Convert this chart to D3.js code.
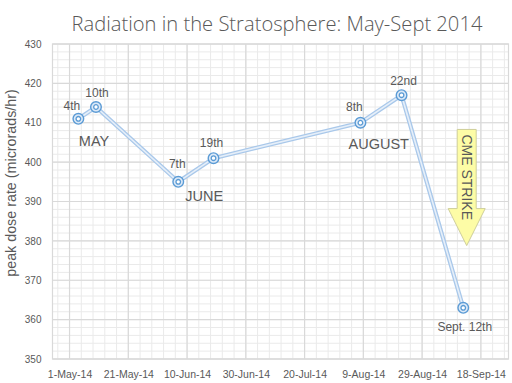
<!DOCTYPE html>
<html>
<head>
<meta charset="utf-8">
<script src="https://cdn.jsdelivr.net/npm/d3@7"></script>
<style>
  html, body { margin: 0; padding: 0; background: #fff; }
  svg { display: block; }
</style>
</head>
<body>
<div id="chart"></div>
<script>
// ---- data ----
const dates = ["2014-05-04", "2014-05-10", "2014-06-07", "2014-06-19", "2014-08-08", "2014-08-22", "2014-09-12"];
const doseRates = [411, 414, 395, 401, 410, 417, 363];
const dayLabels = ["4th", "10th", "7th", "19th", "8th", "22nd", "Sept. 12th"];
const monthLabels = ["MAY", "JUNE", "AUGUST"];
const xTickDates = ["2014-05-01", "2014-05-21", "2014-06-10", "2014-06-30", "2014-07-20", "2014-08-09", "2014-08-29", "2014-09-18"];
const xTickLabels = ["1-May-14", "21-May-14", "10-Jun-14", "30-Jun-14", "20-Jul-14", "9-Aug-14", "29-Aug-14", "18-Sep-14"];
const yTicks = [350, 360, 370, 380, 390, 400, 410, 420, 430];
const titleText = "Radiation in the Stratosphere: May-Sept 2014";
const yTitle = "peak dose rate (microrads/hr)";
const cmeText = "CME STRIKE";

const W = 512, H = 383;
const plot = { left: 52.5, right: 508.5, top: 44, bottom: 359 };
const DAY = 864e5;
const parse = s => new Date(s + "T00:00:00Z");
const base = parse("2014-05-01");

const x = d3.scaleUtc()
  .domain([new Date(base.getTime() - 5.8 * DAY), new Date(base.getTime() + 149.4 * DAY)])
  .range([plot.left, plot.right]);
const y = d3.scaleLinear().domain([350, 430]).range([plot.bottom, plot.top]);

const svg = d3.select("#chart").append("svg").attr("width", W).attr("height", H);
svg.append("rect").attr("width", W).attr("height", H).attr("fill", "#fff");

const font = "'Liberation Sans', Arial, sans-serif";
const grey = "#595959";

// minor gridlines
const minorX = d3.range(-4, 150, 4).map(d => new Date(base.getTime() + d * DAY));
const minorY = d3.range(350, 431, 2);
const g = svg.append("g");
g.selectAll("line.mx").data(minorX).join("line")
  .attr("x1", d => x(d)).attr("x2", d => x(d))
  .attr("y1", plot.top).attr("y2", plot.bottom)
  .attr("stroke", "#eaeaea").attr("stroke-width", 1);
g.selectAll("line.my").data(minorY).join("line")
  .attr("y1", d => y(d)).attr("y2", d => y(d))
  .attr("x1", plot.left).attr("x2", plot.right)
  .attr("stroke", "#eaeaea").attr("stroke-width", 1);

// major gridlines
g.selectAll("line.Mx").data(xTickDates.map(parse)).join("line")
  .attr("x1", d => x(d)).attr("x2", d => x(d))
  .attr("y1", plot.top).attr("y2", plot.bottom)
  .attr("stroke", "#d9d9d9").attr("stroke-width", 1.2);
g.selectAll("line.My").data(yTicks).join("line")
  .attr("y1", d => y(d)).attr("y2", d => y(d))
  .attr("x1", plot.left).attr("x2", plot.right)
  .attr("stroke", "#d9d9d9").attr("stroke-width", 1.2);

// plot border
svg.append("rect")
  .attr("x", plot.left).attr("y", plot.top)
  .attr("width", plot.right - plot.left).attr("height", plot.bottom - plot.top)
  .attr("fill", "none").attr("stroke", "#d9d9d9").attr("stroke-width", 1.2);

// axes (labels only, using d3 axes)
const tickMap = new Map(xTickDates.map((d, i) => [parse(d).getTime(), xTickLabels[i]]));
const xAxis = d3.axisBottom(x)
  .tickValues(xTickDates.map(parse))
  .tickFormat(d => tickMap.get(d.getTime()))
  .tickSize(0).tickPadding(12);
const xa = svg.append("g").attr("transform", `translate(0,${plot.bottom})`).call(xAxis);
xa.select(".domain").remove();
xa.selectAll("text").attr("font-family", font).attr("font-size", 10.5).attr("fill", grey);

const yAxis = d3.axisLeft(y).tickValues(yTicks).tickSize(0).tickPadding(11);
const ya = svg.append("g").attr("transform", `translate(${plot.left},0)`).call(yAxis);
ya.select(".domain").remove();
ya.selectAll("text").attr("font-family", font).attr("font-size", 10).attr("fill", grey);

// title
const title = svg.append("text")
  .attr("x", 277).attr("y", 30.5).attr("text-anchor", "middle")
  .attr("font-family", "'Open Sans', 'Liberation Sans', sans-serif")
  .attr("font-weight", 300)
  .attr("font-size", 20).attr("fill", grey)
  .text(titleText);
const tw = title.node().getComputedTextLength();
if (tw > 0) title.attr("font-size", 20 * 411 / tw);

// y title
svg.append("text")
  .attr("transform", `translate(15.5,${183}) rotate(-90)`)
  .attr("text-anchor", "middle")
  .attr("font-family", font).attr("font-size", 14.3).attr("fill", grey)
  .text(yTitle);

// series
const pts = dates.map((d, i) => ({ date: parse(d), v: doseRates[i], label: dayLabels[i] }));
const line = d3.line().x(d => x(d.date)).y(d => y(d.v));
svg.append("path").datum(pts).attr("d", line)
  .attr("fill", "none").attr("stroke", "#a9c8ea").attr("stroke-width", 4.2)
  .attr("stroke-linejoin", "round");
svg.append("path").datum(pts).attr("d", line)
  .attr("fill", "none").attr("stroke", "#e6eff9").attr("stroke-width", 1.6)
  .attr("stroke-linejoin", "round");

const mk = svg.append("g").selectAll("g").data(pts).join("g")
  .attr("transform", d => `translate(${x(d.date)},${y(d.v)})`);
mk.append("circle").attr("r", 5.3).attr("fill", "#dce9f7").attr("stroke", "#5b9bd5").attr("stroke-width", 1.4);
mk.append("circle").attr("r", 2.3).attr("fill", "#fff").attr("stroke", "#5b9bd5").attr("stroke-width", 1.3);

// day labels
const labelOffsets = [[-6.5, -9], [1, -10], [-1, -14], [-2, -11], [-6, -12], [2, -10], [1.5, 23]];
svg.append("g").selectAll("text").data(pts).join("text")
  .attr("x", (d, i) => x(d.date) + labelOffsets[i][0])
  .attr("y", (d, i) => y(d.v) + labelOffsets[i][1])
  .attr("text-anchor", "middle")
  .attr("font-family", font).attr("font-size", 12).attr("fill", grey)
  .text(d => d.label);

// month labels anchored to points
const monthAnchors = [[1, -2, 39], [2, 26, 19], [4, 18.3, 26]];
svg.append("g").selectAll("text").data(monthLabels).join("text")
  .attr("x", (d, i) => x(pts[monthAnchors[i][0]].date) + monthAnchors[i][1])
  .attr("y", (d, i) => y(pts[monthAnchors[i][0]].v) + monthAnchors[i][2])
  .attr("text-anchor", "middle")
  .attr("font-family", font).attr("font-size", 14.5).attr("fill", grey)
  .text(d => d);

// CME STRIKE arrow
const ax = x(parse("2014-09-13")) + 0.5;
const aTop = y(408.3), aShaft = y(388.2), aTip = y(378.8);
const sw = 9.5, hw = 18.5;
const arrow = d3.path();
arrow.moveTo(ax - sw, aTop);
arrow.lineTo(ax + sw, aTop);
arrow.lineTo(ax + sw, aShaft);
arrow.lineTo(ax + hw, aShaft);
arrow.lineTo(ax, aTip);
arrow.lineTo(ax - hw, aShaft);
arrow.lineTo(ax - sw, aShaft);
arrow.closePath();
svg.append("path").attr("d", arrow.toString())
  .attr("fill", "#fdfca6").attr("stroke", "#cfcf9a").attr("stroke-width", 1);
svg.append("text")
  .attr("transform", `translate(${ax - 5},${aTop + 5}) rotate(90)`)
  .attr("font-family", font).attr("font-size", 14).attr("fill", grey)
  .text(cmeText);
</script>
</body>
</html>
